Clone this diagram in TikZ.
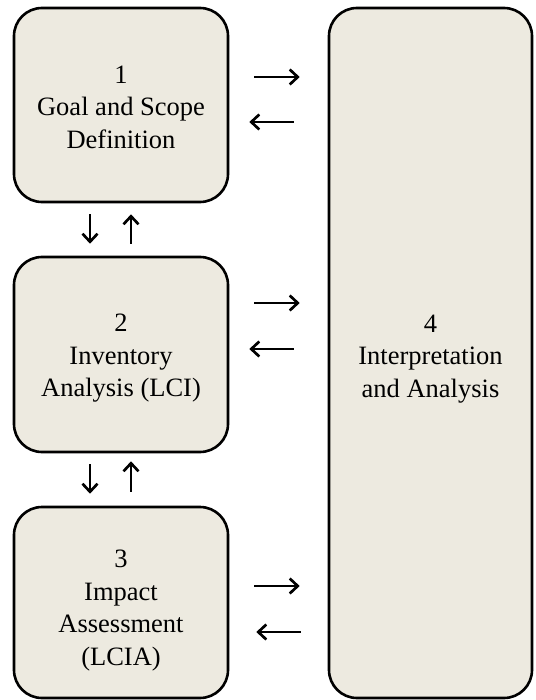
\documentclass[tikz,border=0pt]{standalone}
\usepackage{fontspec}
\setmainfont{Liberation Serif}
\usetikzlibrary{arrows.meta}
\definecolor{boxfill}{RGB}{237,234,224}
\tikzset{
  stage/.style={draw=black, line width=2.6pt, fill=boxfill, rounded corners=28pt,
    inner sep=0pt, minimum width=#1},
  stagetext/.style={align=center, inner sep=0pt, yshift=#1,
    font=\fontsize{26.5}{32.5}\selectfont},
  flow/.style={line width=2.7pt, -{Straight Barb[length=8pt,width=15pt,line width=2.7pt]}},
}
\begin{document}
\begin{tikzpicture}[x=1pt,y=-1pt]
  \useasboundingbox (0,0) rectangle (535,700);
  % the three left-hand stages
  \node[stage=214pt, minimum height=194pt,
    label={[stagetext=-2pt]center:1\\Goal and Scope\\Definition}] (b1) at (121,105) {};
  \node[stage=214pt, minimum height=195pt,
    label={[stagetext=-4pt]center:2\\Inventory\\Analysis (LCI)}] (b2) at (121,354.5) {};
  \node[stage=214pt, minimum height=191pt,
    label={[stagetext=-8pt]center:3\\Impact\\Assessment\\(LCIA)}] (b3) at (121,602.5) {};
  % the tall interpretation stage
  \node[stage=203pt, minimum height=690pt,
    label={[stagetext=-6pt]center:4\\Interpretation\\and Analysis}] (b4) at (430.5,353) {};

  % exchanges between the left stages and stage 4
  \draw[flow, shorten <=25pt, shorten >=28pt] (b1.east |- 0,77) -- (b4.west |- 0,77);
  \draw[flow, shorten <=34pt, shorten >=20pt] (b4.west |- 0,122) -- (b1.east |- 0,122);
  \draw[flow, shorten <=25pt, shorten >=28pt] (b2.east |- 0,303) -- (b4.west |- 0,303);
  \draw[flow, shorten <=34pt, shorten >=20pt] (b4.west |- 0,349) -- (b2.east |- 0,349);
  \draw[flow, shorten <=25pt, shorten >=28pt] (b3.east |- 0,586) -- (b4.west |- 0,586);
  \draw[flow, shorten <=27pt, shorten >=27pt] (b4.west |- 0,632) -- (b3.east |- 0,632);

  % exchanges between consecutive left stages
  \draw[flow, shorten <=11pt, shorten >=12pt] (b1.south -| 90,0) -- (b2.north -| 90,0);
  \draw[flow, shorten <=12pt, shorten >=11pt] (b2.north -| 131,0) -- (b1.south -| 131,0);
  \draw[flow, shorten <=11pt, shorten >=12pt] (b2.south -| 90,0) -- (b3.north -| 90,0);
  \draw[flow, shorten <=14pt, shorten >=8pt] (b3.north -| 131,0) -- (b2.south -| 131,0);
\end{tikzpicture}
\end{document}
